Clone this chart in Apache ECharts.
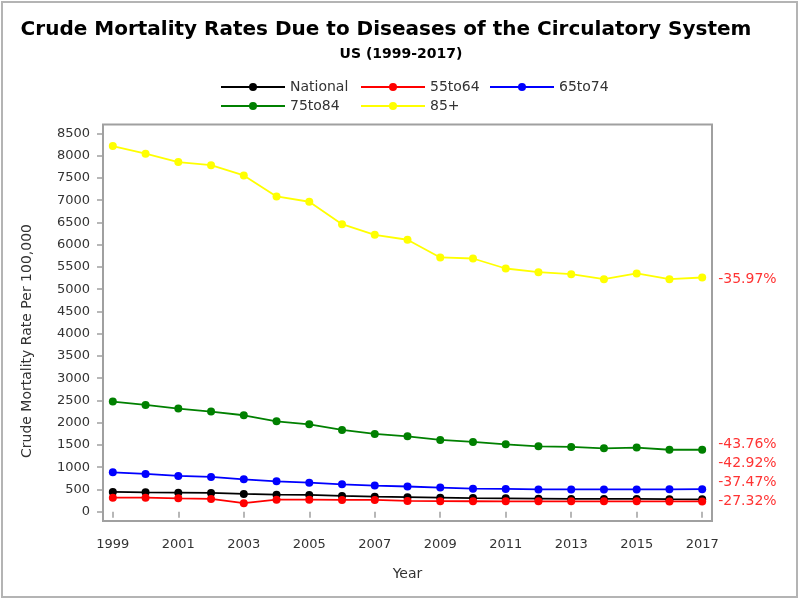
<!DOCTYPE html>
<html>
<head>
<meta charset="utf-8">
<script src="https://cdn.jsdelivr.net/npm/echarts@6/dist/echarts.min.js"></script>
<style>
  html, body { margin: 0; padding: 0; background: #fff; }
  #chart { width: 800px; height: 600px; }
</style>
</head>
<body>
<div id="chart"></div>
<script>
// 数据
const years = [1999, 2000, 2001, 2002, 2003, 2004, 2005, 2006, 2007, 2008,
               2009, 2010, 2011, 2012, 2013, 2014, 2015, 2016, 2017];
const national = [443, 434, 427, 420, 398, 382, 375, 353, 337, 325,
                  315, 305, 299, 292, 285, 285, 285, 280, 277];
const age55to64 = [315, 315, 300, 286, 190, 270, 270, 263, 263, 240,
                   236, 234, 232, 232, 232, 232, 232, 231, 229];
const age65to74 = [884, 848, 803, 780, 726, 681, 652, 614, 585, 565,
                   540, 517, 510, 500, 500, 500, 500, 502, 505];
const age75to84 = [2474, 2399, 2316, 2249, 2166, 2031, 1963, 1837, 1747, 1693,
                   1612, 1567, 1513, 1468, 1455, 1423, 1439, 1391, 1391];
const age85plus = [8215, 8044, 7855, 7787, 7556, 7083, 6964, 6461, 6222, 6110,
                   5712, 5689, 5464, 5381, 5336, 5224, 5352, 5224, 5262];
const seriesNames = ["National", "55to64", "65to74", "75to84", "85+"];
const pctChange = ["-37.47%", "-27.32%", "-42.92%", "-43.76%", "-35.97%"];
const xTickYears = [1999, 2001, 2003, 2005, 2007, 2009, 2011, 2013, 2015, 2017];
const yTickValues = [0, 500, 1000, 1500, 2000, 2500, 3000, 3500, 4000, 4500,
                     5000, 5500, 6000, 6500, 7000, 7500, 8000, 8500];

(function () {
  const myChart = echarts.init(document.getElementById("chart"));
  const font = "DejaVu Sans";
  const colors = ["#000000", "#ff0000", "#0000ff", "#008000", "#ffff00"];
  const allData = [national, age55to64, age65to74, age75to84, age85plus];
  // 末端百分比标签的上下错位（避免重叠）
  const labelShift = [-17, 0, -26, -5, 2];

  const series = allData.map((arr, i) => ({
    name: seriesNames[i],
    type: "line",
    data: arr.map((v, j) => [years[j], v]),
    symbol: "circle",
    symbolSize: 8,
    clip: false,
    lineStyle: { width: 1.8, color: colors[i] },
    itemStyle: { color: colors[i] },
    endLabel: {
      show: true,
      formatter: () => pctChange[i],
      color: "#ff3333",
      fontFamily: font,
      fontSize: 14,
      distance: 16,
      offset: [0, labelShift[i]],
    },
  }));

  const legendBase = {
    orient: "vertical",
    top: 74,
    itemWidth: 64,
    itemHeight: 10,
    itemGap: 3,
    textStyle: { fontFamily: font, fontSize: 14, color: "#333", lineHeight: 16 },
  };

  const option = {
    animation: false,
    color: colors,
    graphic: [
      {
        type: "rect",
        shape: { x: 2, y: 2, width: 795, height: 595 },
        style: { fill: "none", stroke: "#b4b4b4", lineWidth: 2 },
        silent: true,
      },
      {
        type: "text",
        x: 386, y: 30,
        style: {
          text: "Crude Mortality Rates Due to Diseases of the Circulatory System",
          align: "center", verticalAlign: "middle",
          font: "bold 20px 'DejaVu Sans'", fill: "#000",
        },
      },
      {
        type: "text",
        x: 401, y: 54,
        style: {
          text: "US (1999-2017)",
          align: "center", verticalAlign: "middle",
          font: "bold 14px 'DejaVu Sans'", fill: "#000",
        },
      },
      {
        type: "text",
        x: 27, y: 341,
        rotation: Math.PI / 2,
        style: {
          text: "Crude Mortality Rate Per 100,000",
          align: "center", verticalAlign: "middle",
          font: "14px 'DejaVu Sans'", fill: "#333",
        },
      },
    ],
    legend: [
      Object.assign({ left: 215, data: ["National", "75to84"] }, legendBase),
      Object.assign({ left: 355, data: ["55to64", "85+"] }, legendBase),
      Object.assign({ left: 484, data: ["65to74"] }, legendBase),
    ],
    grid: {
      left: 103,
      top: 124.5,
      right: 88,
      bottom: 79,
      show: true,
      borderColor: "#a0a0a0",
      borderWidth: 2,
    },
    xAxis: {
      type: "value",
      min: 1998.7,
      max: 2017.3,
      name: "Year",
      nameLocation: "middle",
      nameGap: 46,
      nameTextStyle: { fontFamily: font, fontSize: 14, color: "#333" },
      axisLine: { show: false },
      splitLine: { show: false },
      axisTick: {
        customValues: xTickYears,
        length: 6,
        lineStyle: { color: "#a0a0a0", width: 1.5 },
      },
      axisLabel: {
        customValues: xTickYears,
        margin: 17,
        fontFamily: font,
        fontSize: 13,
        color: "#333",
        formatter: (v) => String(v),
      },
    },
    yAxis: {
      type: "value",
      min: -210,
      max: 8700,
      axisLine: { show: false },
      splitLine: { show: false },
      axisTick: {
        customValues: yTickValues,
        length: 6,
        lineStyle: { color: "#a0a0a0", width: 1.5 },
      },
      axisLabel: {
        customValues: yTickValues,
        margin: 13,
        fontFamily: font,
        fontSize: 13,
        color: "#333",
        formatter: (v) => String(v),
      },
    },
    series: series,
  };

  myChart.setOption(option);
  window.addEventListener("resize", function () {
    myChart.resize();
  });
})();
</script>
</body>
</html>
